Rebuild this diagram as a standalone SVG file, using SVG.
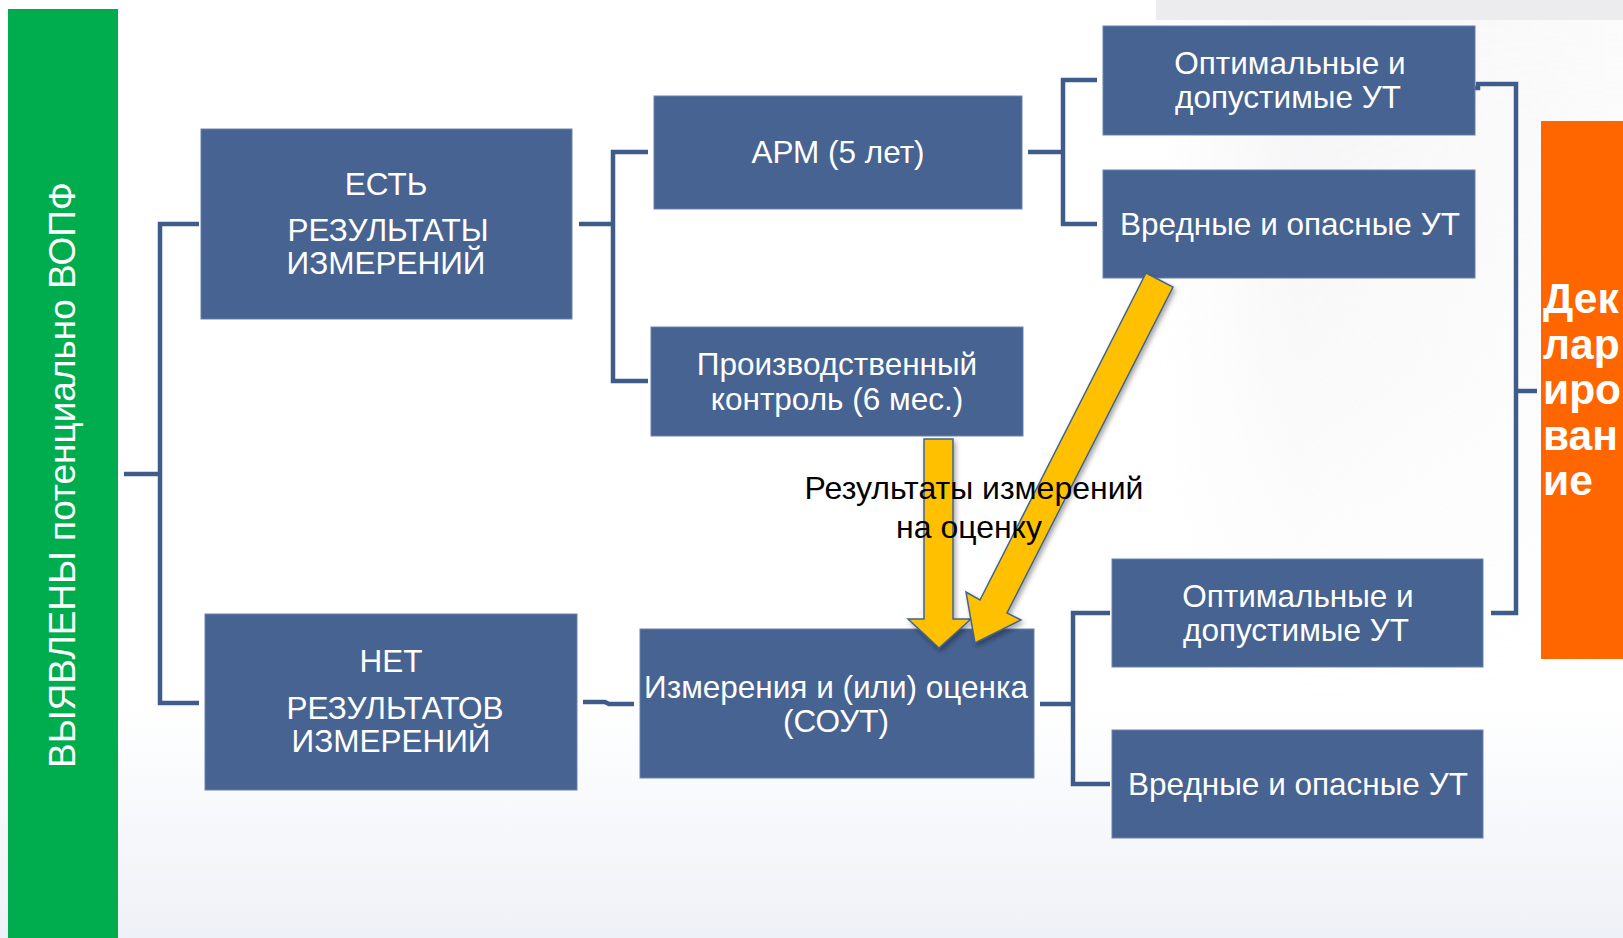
<svg xmlns="http://www.w3.org/2000/svg" width="1623" height="938" viewBox="0 0 1623 938">
<defs>
<linearGradient id="bg" x1="0" y1="0" x2="0" y2="1">
<stop offset="0" stop-color="#ffffff"/>
<stop offset="0.75" stop-color="#ffffff"/>
<stop offset="1" stop-color="#eef1f7"/>
</linearGradient>
<linearGradient id="bgr" x1="0" y1="0" x2="1" y2="0">
<stop offset="0" stop-color="#f2f2f4" stop-opacity="0"/>
<stop offset="0.3" stop-color="#f2f2f4" stop-opacity="0.8"/>
<stop offset="1" stop-color="#f7f7f8" stop-opacity="0.5"/>
</linearGradient>
<linearGradient id="fadeV" x1="0" y1="0" x2="0" y2="1">
<stop offset="0" stop-color="#fff"/>
<stop offset="0.5" stop-color="#fff" stop-opacity="0.6"/>
<stop offset="1" stop-color="#fff" stop-opacity="0"/>
</linearGradient>
<mask id="mk">
<rect x="1156" y="0" width="467" height="700" fill="url(#fadeV)"/>
</mask>
<filter id="sh" x="-20%" y="-20%" width="140%" height="140%">
<feDropShadow dx="2" dy="3" stdDeviation="2.5" flood-color="#000" flood-opacity="0.35"/>
</filter>
</defs>
<style>
.box{fill:#476392;stroke:#6b82ab;stroke-width:1}
.t{font-family:"Liberation Sans",Arial,sans-serif;font-size:31.5px;fill:#ffffff;text-anchor:middle}
.con{fill:none;stroke:#3f5b89;stroke-width:4.5;stroke-linejoin:miter}
.arr{fill:#ffc000;stroke:#41648f;stroke-width:1.5;filter:url(#sh)}
.lbl{font-family:"Liberation Sans",Arial,sans-serif;font-size:32px;fill:#000000;text-anchor:middle}
</style>
<rect x="0" y="0" width="1623" height="938" fill="url(#bg)"/>
<rect x="1156" y="0" width="467" height="700" fill="url(#bgr)" mask="url(#mk)"/>
<rect x="1156" y="0" width="467" height="20" fill="#ececee"/>

<g id="left-bar">
<rect x="8" y="9" width="110" height="929" fill="#00ad4e"/>
<text transform="translate(75 475) rotate(-90)" font-family="Liberation Sans, Arial, sans-serif" font-size="37" fill="#ffffff" text-anchor="middle">ВЫЯВЛЕНЫ потенциально ВОПФ</text>
</g>

<g id="connectors">
<path class="con" d="M124 474 H160 M199 224 H160 V703 H199"/>
<path class="con" d="M579 224 H613 M648 152 H613 V381 H648"/>
<path class="con" d="M1028 152 H1063 M1097 80 H1063 V224 H1097"/>
<path class="con" d="M583 702 H605 L609 704 H634"/>
<path class="con" d="M1040 704 H1073 M1110 613 H1073 V784 H1110"/>
<path class="con" d="M1456 97 V88 H1478 V84 H1516 V613 H1491 M1514 391 H1537"/>
</g>

<g id="node-est">
<rect class="box" x="201" y="129" width="371" height="190"/>
<text class="t" x="386" y="195">ЕСТЬ</text>
<text class="t" x="388" y="241">РЕЗУЛЬТАТЫ</text>
<text class="t" x="386" y="274">ИЗМЕРЕНИЙ</text>
</g>

<g id="node-net">
<rect class="box" x="205" y="614" width="372" height="176"/>
<text class="t" x="391" y="672">НЕТ</text>
<text class="t" x="395" y="719">РЕЗУЛЬТАТОВ</text>
<text class="t" x="391" y="752">ИЗМЕРЕНИЙ</text>
</g>

<g id="node-arm">
<rect class="box" x="654" y="96" width="368" height="113"/>
<text class="t" x="838" y="163">АРМ (5 лет)</text>
</g>

<g id="node-pk">
<rect class="box" x="651" y="327" width="372" height="109"/>
<text class="t" x="837" y="375">Производственный</text>
<text class="t" x="837" y="410">контроль (6 мес.)</text>
</g>

<g id="node-opt1">
<rect class="box" x="1103" y="26" width="372" height="109"/>
<text class="t" x="1290" y="74">Оптимальные и</text>
<text class="t" x="1288" y="108">допустимые УТ</text>
</g>

<g id="node-vred1">
<rect class="box" x="1103" y="170" width="372" height="108"/>
<text class="t" x="1290" y="235">Вредные и опасные УТ</text>
</g>

<g id="node-izm">
<rect class="box" x="640" y="629" width="394" height="149"/>
<text class="t" x="836" y="698">Измерения и (или) оценка</text>
<text class="t" x="836" y="732">(СОУТ)</text>
</g>

<g id="node-opt2">
<rect class="box" x="1112" y="559" width="371" height="108"/>
<text class="t" x="1298" y="607">Оптимальные и</text>
<text class="t" x="1296" y="641">допустимые УТ</text>
</g>

<g id="node-vred2">
<rect class="box" x="1112" y="730" width="371" height="108"/>
<text class="t" x="1298" y="795">Вредные и опасные УТ</text>
</g>

<g id="node-decl">
<rect x="1541" y="121" width="82" height="538" fill="#ff6600"/>
<g font-family="Liberation Sans, Arial, sans-serif" font-size="42.5" font-weight="bold" fill="#ffffff">
<text x="1543" y="313">Дек</text>
<text x="1543" y="359">лар</text>
<text x="1543" y="404">иро</text>
<text x="1543" y="450">ван</text>
<text x="1543" y="495">ие</text>
</g>
</g>

<g id="arrows">
<polygon class="arr" points="924,439 953,439 953,619 971,619 939,648 908,619 924,619"/>
<polygon class="arr" points="1146,273 1173,287 1007,613 1021,620 975,643 966,592 980,600"/>
</g>

<g id="label">
<text class="lbl" x="974" y="499">Результаты измерений</text>
<text class="lbl" x="969" y="538">на оценку</text>
</g>
</svg>
